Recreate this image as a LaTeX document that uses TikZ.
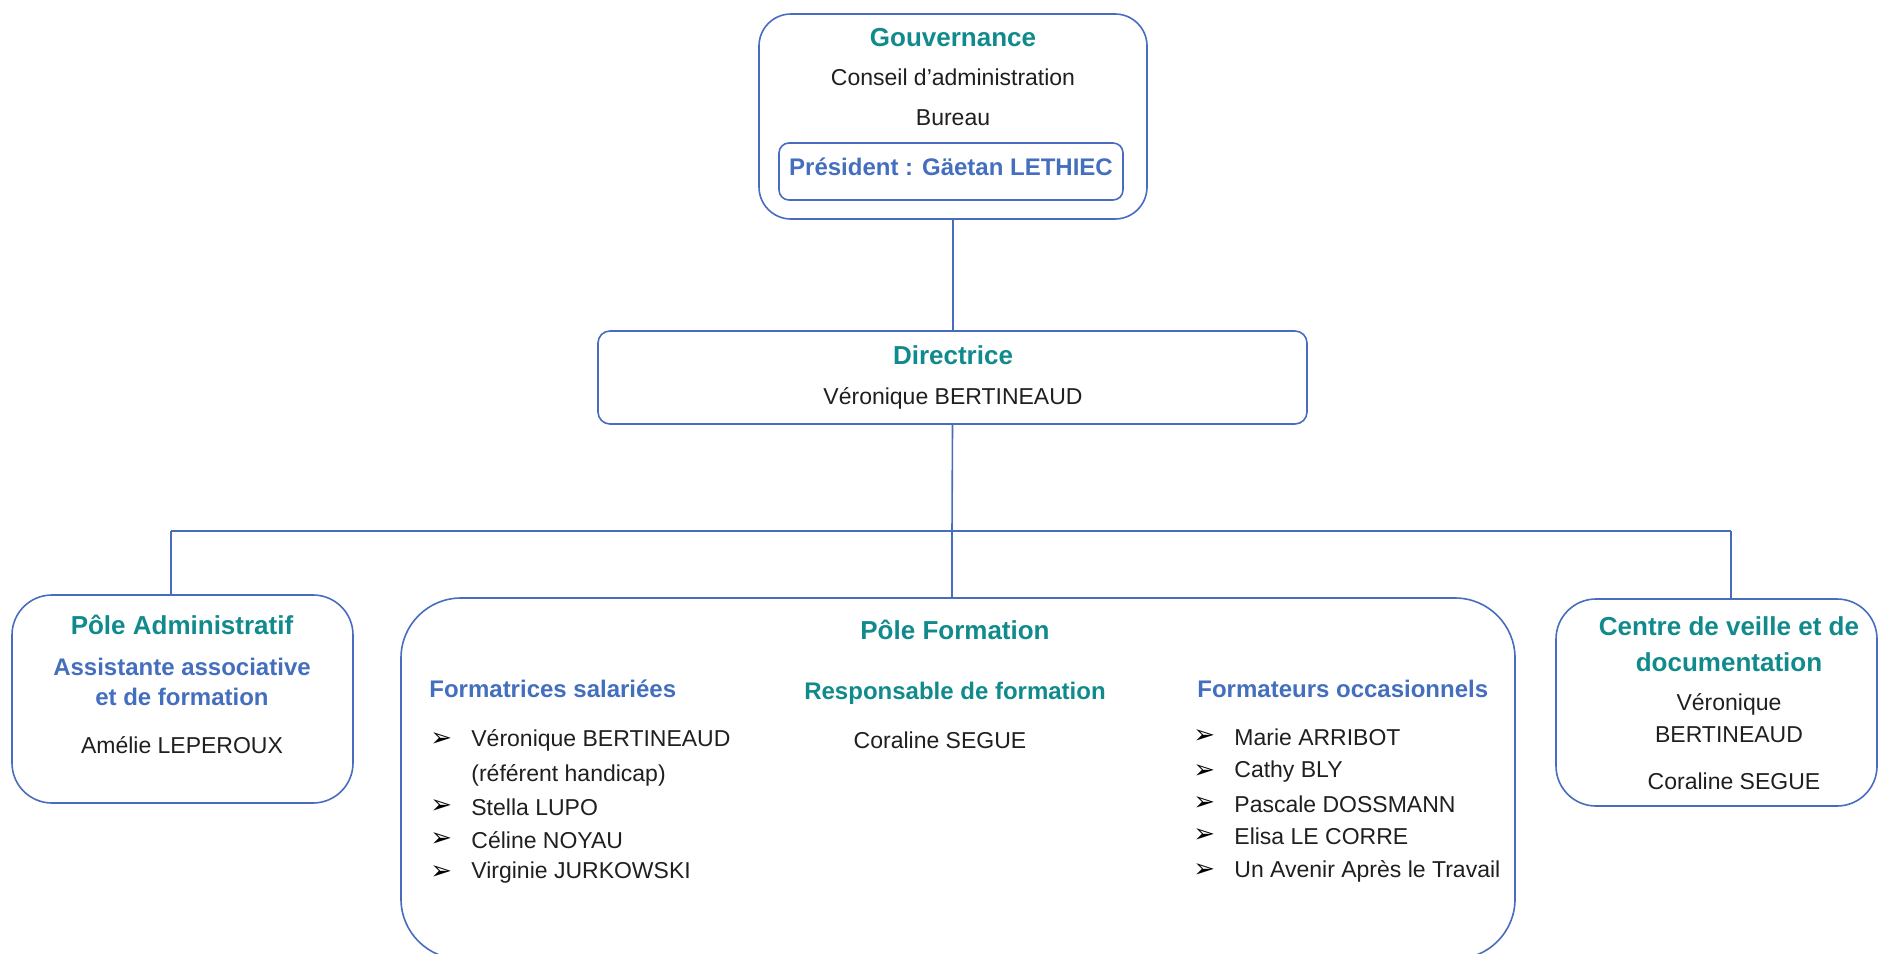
\documentclass[tikz,border=0pt]{standalone}
\usepackage{fontspec}
\setmainfont{Liberation Sans}
\newfontfamily\symfont{DejaVu Sans}
\usepackage{tikz}
\usetikzlibrary{positioning}
\definecolor{headteal}{RGB}{16,138,140}
\definecolor{headblue}{RGB}{68,110,190}
\definecolor{boxblue}{RGB}{72,108,190}
\tikzset{
	x=0.5pt, y=-0.5pt, % one unit is one pixel of the reference
	box/.style={draw=boxblue, line width=0.8pt, inner sep=0pt}, % frame of every block
	head/.style={font=\bfseries\fontsize{13}{15}\selectfont, text=headteal, inner sep=0pt}, % teal titles
	subhead/.style={font=\bfseries\fontsize{12}{14}\selectfont, text=headblue, inner sep=0pt}, % blue titles
	txt/.style={font=\fontsize{11.5}{14}\selectfont, text=black!88, inner sep=0pt}, % plain names
	bullet/.style={font=\symfont\fontsize{13}{14}\selectfont, text=black, inner sep=0pt}, % list arrows
	link/.style={draw=boxblue, line width=0.8pt}, % connectors
}

\begin{document}
\begin{tikzpicture}
		\useasboundingbox (0,0) rectangle (1878,953);
		
		% blocks
		\node[box, rounded corners=16pt, minimum width=194pt, minimum height=102.5pt] (gouv) at (953,116.5) {};
		\node[box, rounded corners=5pt, minimum width=172pt, minimum height=28.5pt] (pres) at (951,171.5) {};
		\node[box, rounded corners=6pt, minimum width=354.5pt, minimum height=46.5pt] (dir) at (952.5,377.5) {};
		\node[box, rounded corners=20pt, minimum width=170.5pt, minimum height=104pt] (admin) at (182.5,699) {};
		\node[box, rounded corners=30pt, minimum width=557pt, minimum height=180.5pt] (form) at (958,778.5) {};
		\node[box, rounded corners=20pt, minimum width=160.5pt, minimum height=103.5pt] (centre) at (1716.5,702.5) {};
		
		% Gouvernance
		\node[head] (gouvTitle) at (953,38) {Gouvernance};
		\node[txt] (conseil) at (953,77) {Conseil d’administration};
		\node[txt] (bureau) at (953,118) {Bureau};
		\node[subhead] (presName) at (951,167) {Président : Gäetan LETHIEC};
		
		% Directrice
		\node[head] (dirTitle) at (953,355) {Directrice};
		\node[txt] (dirName) at (953,398) {Véronique BERTINEAUD};
		
		% Pole Administratif
		\node[head] (adminTitle) at (182,625) {Pôle Administratif};
		\node[subhead, align=center] (adminRole) at (182,682) {Assistante associative\\[1pt]et de formation};
		\node[txt] (adminName) at (182,745) {Amélie LEPEROUX};
		
		% Pole Formation
		\node[head] (formTitle) at (955,630) {Pôle Formation};
		\node[subhead, anchor=west] (salTitle) at (429,689) {Formatrices salariées};
		\node[head, font=\bfseries\fontsize{12}{14}\selectfont] (respTitle) at (955,693) {Responsable de formation};
		\node[txt] (respName) at (940,740) {Coraline SEGUE};
		\node[subhead, anchor=west] (occTitle) at (1197,689) {Formateurs occasionnels};
		
		\foreach \y/\name [count=\i] in {740/Véronique BERTINEAUD, 807/Stella LUPO, 840/Céline NOYAU, 873/Virginie JURKOWSKI}{
			\node[bullet, anchor=west] (salArrow\i) at (430,\y) {➢};
			\node[txt, anchor=west] (sal\i) at (471,\y) {\name};
		}
		\node[txt, anchor=west] (salNote) at (471,775) {(référent handicap)};
		
		\foreach \y/\name [count=\i] in {737/Marie ARRIBOT, 772/Cathy BLY, 804/Pascale DOSSMANN, 836/Elisa LE CORRE, 871/Un Avenir Après le Travail}{
			\node[bullet, anchor=west] (occArrow\i) at (1193,\y) {➢};
			\node[txt, anchor=west] (occ\i) at (1234,\y) {\name};
		}
		
		% Centre de veille
		\node[head, align=center] (centreTitle) at (1729,644) {Centre de veille et de\\[3pt]documentation};
		\node[txt, align=center] (centreName1) at (1729,718) {Véronique\\[2pt]BERTINEAUD};
		\node[txt] (centreName2) at (1734,781) {Coraline SEGUE};
		
		% connectors
		\coordinate (bus) at (952,531);
		\coordinate (busL) at (171,531);
		\coordinate (busR) at (1731,531);
		\draw[link] (gouv.south) -- (gouv.south |- dir.north);
		\draw[link] (dir.south) -- (bus);
		\draw[link] (busL) -- (busR);
		\draw[link] (busL) -- (busL |- admin.north);
		\draw[link] (bus) -- (bus |- form.north);
		\draw[link] (busR) -- (busR |- centre.north);
		\end{tikzpicture}
\end{document}
